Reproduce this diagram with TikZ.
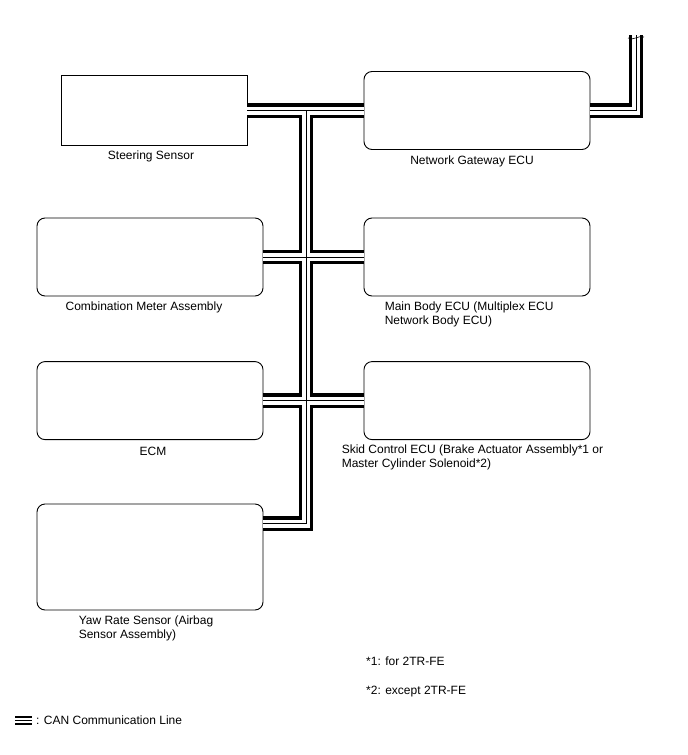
\documentclass[tikz,border=0pt]{standalone}
\usepackage{fontspec}
\setmainfont{Liberation Sans}
\usetikzlibrary{positioning}

\begin{document}
\begin{tikzpicture}[
    x=1pt, y=-1pt,
    node distance=5pt,
    ecu/.style={rectangle, rounded corners=8pt, draw, line width=0.9pt, fill=white,
        minimum width=226pt, minimum height=78pt},
    sensor/.style={rectangle, draw, line width=0.9pt, fill=white,
        minimum width=186pt, minimum height=70pt},
    lbl/.style={inner sep=0pt, font=\fontsize{12}{14}\selectfont, align=left},
    canout/.style={line width=14.5pt, draw=black, line join=miter},
    canin/.style={line width=8pt, draw=white, line join=miter},
    cancore/.style={line width=1pt, draw=black, line join=miter}
]
\useasboundingbox (0,0) rectangle (688,755);

% Units
\node[sensor] (steer) at (154,110.5) {};
\node[ecu] (gw) at (477,110.5) {};
\node[ecu] (meter) at (150,257) {};
\node[ecu] (mainbody) at (477,257) {};
\node[ecu] (ecm) at (150,400.6) {};
\node[ecu] (skid) at (477,400.6) {};
\node[ecu, minimum height=106pt] (yaw) at (150,557) {};

% Labels
\node[lbl, below=5pt of steer, xshift=-3pt] {Steering Sensor};
\node[lbl, below=6pt of gw, xshift=-5pt] {Network Gateway ECU};
\node[lbl, below=5pt of meter, xshift=-6pt] {Combination Meter Assembly};
\node[lbl, below right=5pt and 21pt of mainbody.south west] {Main Body ECU (Multiplex ECU\\Network Body ECU)};
\node[lbl, below=7pt of ecm, xshift=3pt] {ECM};
\node[lbl, below right=5pt and -22pt of skid.south west] {Skid Control ECU (Brake Actuator Assembly*1 or\\Master Cylinder Solenoid*2)};
\node[lbl, below right=5pt and 42pt of yaw.south west] {Yaw Rate Sensor (Airbag\\Sensor Assembly)};
\node[lbl, anchor=west] (note1) at (366,661.5) {*1: for 2TR-FE};
\node[lbl, anchor=west] (note2) at (366,692) {*2: except 2TR-FE};
\node[lbl, anchor=west] (legend) at (36,720.5) {: CAN Communication Line};

% Bus points
\coordinate (jtop) at (306,110.5);
\coordinate (jyaw) at (306,523.5);
\coordinate (gwcorner) at (636,110.5);
\coordinate (gwend) at (636,35);
\coordinate (lega) at (15,720.5);
\coordinate (legb) at (32,720.5);

% CAN bus
\foreach \layer in {canout,canin,cancore}{
  \draw[\layer] (steer.east) -- (gw.west);
  \draw[\layer] (meter.east) -- (mainbody.west);
  \draw[\layer] (ecm.east) -- (skid.west);
  \draw[\layer] (jtop) -- (jyaw) -- (yaw.east |- jyaw);
  \draw[\layer] (gw.east) -- (gwcorner) -- (gwend);
}
\draw[line width=0.6pt] ([xshift=-8pt,yshift=-3pt]gwend) .. controls ([xshift=-2pt,yshift=-6pt]gwend) and ([xshift=2pt,yshift=0pt]gwend) .. ([xshift=8pt,yshift=-2pt]gwend);

% Legend symbol
\draw[line width=9pt] (lega) -- (legb);
\draw[line width=4.5pt, white] (lega) -- (legb);
\draw[line width=0.7pt] (lega) -- (legb);

\end{tikzpicture}
\end{document}
